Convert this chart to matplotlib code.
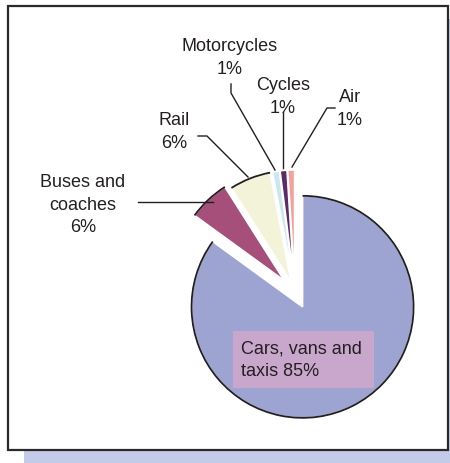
import matplotlib
matplotlib.use("Agg")
import matplotlib.pyplot as plt
from matplotlib.patches import Rectangle, Arc

plt.rcParams['font.family'] = ['Liberation Sans', 'DejaVu Sans']

# ---- data ----
categories = ["Cars, vans and taxis", "Buses and coaches", "Rail",
              "Motorcycles", "Cycles", "Air"]
shares = [85, 6, 6, 1, 1, 1]
explode = [0.15, 0.14, 0.10, 0.10, 0.10, 0.10]   # fraction of radius
colors = ["#9ea4d2", "#a64f7a", "#f3f3da", "#c8e7f1", "#5b2a68", "#f4a19b"]

W, H = 450, 463
TXT = "#231f20"
R = 111

def Y(y):
    return H - y

fig = plt.figure(figsize=(W / 100, H / 100), dpi=100)
ax = fig.add_axes([0, 0, 1, 1])

# shadow and frame
ax.add_patch(Rectangle((24, Y(463)), 460, 463 - 19, facecolor="#c2cbe8",
                       edgecolor="none", zorder=0))
ax.add_patch(Rectangle((8, Y(450)), 439.5, 444, facecolor="white",
                       edgecolor="#2a2a2a", lw=1.6, zorder=1))

wedges, _ = ax.pie(shares, colors=colors, startangle=90, counterclock=False,
                   explode=[e * R for e in explode], radius=R,
                   center=(295, Y(292)),
                   wedgeprops=dict(edgecolor="white", linewidth=1.2),
                   frame=False)
for w in wedges:
    w.set_zorder(2)
for w in wedges[:3]:
    ax.add_patch(Arc(w.center, 2 * w.r, 2 * w.r, theta1=w.theta1,
                     theta2=w.theta2, color=TXT, lw=1.3, zorder=3))

ax.set_xlim(0, W)
ax.set_ylim(0, H)
ax.set_aspect('auto')
ax.axis('off')

fs = 13
ls = 1.42
# labels
ax.text(230, Y(58), "Motorcycles\n1%", ha="center", va="center",
        fontsize=fs, color=TXT, linespacing=ls, zorder=5)
ax.text(283, Y(97), "Cycles\n1%", ha="center", va="center",
        fontsize=fs, color=TXT, linespacing=ls, zorder=5)
ax.text(350, Y(109), "Air\n1%", ha="center", va="center",
        fontsize=fs, color=TXT, linespacing=ls, zorder=5)
ax.text(174, Y(132), "Rail\n6%", ha="center", va="center",
        fontsize=fs, color=TXT, linespacing=ls, zorder=5)
ax.text(83, Y(205), "Buses and\ncoaches\n6%", ha="center", va="center",
        fontsize=fs, color=TXT, linespacing=ls, zorder=5)

ax.add_patch(Rectangle((233, Y(388)), 141, 57, facecolor="#c9a7cd",
                       edgecolor="none", zorder=4))
ax.text(241, Y(360), "Cars, vans and\ntaxis 85%", ha="left", va="center",
        fontsize=fs, color=TXT, linespacing=ls, zorder=5)

# leader lines
lk = dict(color=TXT, lw=1.0, zorder=4)
ax.plot([231, 231, 275], [Y(84), Y(93), Y(170)], **lk)
ax.plot([283, 283], [Y(112), Y(168)], **lk)
ax.plot([335, 327, 292], [Y(108), Y(108), Y(167)], **lk)
ax.plot([198, 207, 248], [Y(136), Y(136), Y(177)], **lk)
ax.plot([138, 213], [Y(202), Y(202)], **lk)

fig.savefig("out.png", dpi=100)
